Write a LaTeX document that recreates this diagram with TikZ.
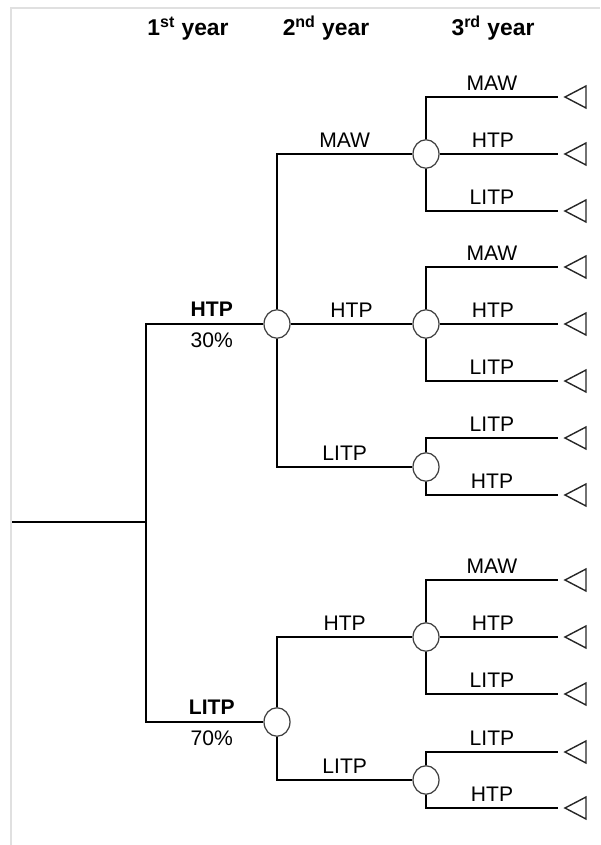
\documentclass[tikz,border=0pt]{standalone}
\usepackage{fontspec}
\setmainfont{Liberation Sans}
\usetikzlibrary{shapes.geometric}

\tikzset{
  branch/.style={black,line width=0.8pt},
  chance/.style={draw=black!75,line width=0.7pt,fill=white,ellipse,inner sep=0,
                 minimum width=0.52cm,minimum height=0.57cm},
  lab/.style={anchor=base,yshift=3.5pt,inner sep=0,font=\fontsize{12}{14}\selectfont},
  toplab/.style={anchor=base,yshift=4pt,inner sep=0,font=\fontsize{12}{14}\selectfont\bfseries},
  pct/.style={anchor=north,yshift=-4.5pt,inner sep=0,font=\fontsize{12}{14}\selectfont},
  yearlab/.style={anchor=base,inner sep=0,font=\fontsize{13}{15}\selectfont\bfseries},
  endmark/.style={draw=black!85,line width=0.8pt}
}

\begin{document}
\begin{tikzpicture}[x=0.02cm,y=-0.02cm]

\useasboundingbox (0,0) rectangle (600,845);

% frame
\draw [black!12,line width=1.2pt] (11,845) -- (11,8) -- (600,8);

% headings
\node [yearlab] (y1) at (188,35) {1\textsuperscript{st} year};
\node [yearlab] (y2) at (326,35) {2\textsuperscript{nd} year};
\node [yearlab] (y3) at (493,35) {3\textsuperscript{rd} year};

% points of the tree
\coordinate (s) at (12,522);
\coordinate (j0) at (146,522);

\node [chance] (c1) at (277,324) {};
\node [chance] (c2) at (277,722) {};

\node [chance] (c11) at (426,154) {};
\node [chance] (c12) at (426,324) {};
\node [chance] (c13) at (426,467) {};
\node [chance] (c21) at (426,637) {};
\node [chance] (c22) at (426,780) {};

\coordinate (e111) at (558,97);
\coordinate (e112) at (558,154);
\coordinate (e113) at (558,211);
\coordinate (e121) at (558,267);
\coordinate (e122) at (558,324);
\coordinate (e123) at (558,381);
\coordinate (e131) at (558,438);
\coordinate (e132) at (558,495);
\coordinate (e211) at (558,580);
\coordinate (e212) at (558,637);
\coordinate (e213) at (558,694);
\coordinate (e221) at (558,752);
\coordinate (e222) at (558,808);

% 1st year
\draw [branch] (s) -- (j0);
\draw [branch] (j0) |- (c1.west) node [toplab,pos=.78] (l1) {HTP} node [pct,pos=.78] (p1) {30\%};
\draw [branch] (j0) |- (c2.west) node [toplab,pos=.78] (l2) {LITP} node [pct,pos=.78] (p2) {70\%};

% 2nd year
\draw [branch] (c1.north) |- (c11.west) node [lab,pos=.75] (l11) {MAW};
\draw [branch] (c1.east) -- (c12.west) node [lab,midway] (l12) {HTP};
\draw [branch] (c1.south) |- (c13.west) node [lab,pos=.75] (l13) {LITP};

\draw [branch] (c2.north) |- (c21.west) node [lab,pos=.75] (l21) {HTP};
\draw [branch] (c2.south) |- (c22.west) node [lab,pos=.75] (l22) {LITP};

% 3rd year
\draw [branch] (c11.north) |- (e111) node [lab,pos=.75] (l111) {MAW};
\draw [branch] (c11.east) -- (e112) node [lab,pos=.45] (l112) {HTP};
\draw [branch] (c11.south) |- (e113) node [lab,pos=.75] (l113) {LITP};

\draw [branch] (c12.north) |- (e121) node [lab,pos=.75] (l121) {MAW};
\draw [branch] (c12.east) -- (e122) node [lab,pos=.45] (l122) {HTP};
\draw [branch] (c12.south) |- (e123) node [lab,pos=.75] (l123) {LITP};

\draw [branch] (c13.north) |- (e131) node [lab,pos=.75] (l131) {LITP};
\draw [branch] (c13.south) |- (e132) node [lab,pos=.75] (l132) {HTP};

\draw [branch] (c21.north) |- (e211) node [lab,pos=.75] (l211) {MAW};
\draw [branch] (c21.east) -- (e212) node [lab,pos=.45] (l212) {HTP};
\draw [branch] (c21.south) |- (e213) node [lab,pos=.75] (l213) {LITP};

\draw [branch] (c22.north) |- (e221) node [lab,pos=.75] (l221) {LITP};
\draw [branch] (c22.south) |- (e222) node [lab,pos=.75] (l222) {HTP};

% end points
\foreach \e in {e111,e112,e113,e121,e122,e123,e131,e132,e211,e212,e213,e221,e222}
  \draw [endmark] (\e) ++(7,0) -- ++(21,-11) -- ++(0,22) -- cycle;

\end{tikzpicture}
\end{document}
